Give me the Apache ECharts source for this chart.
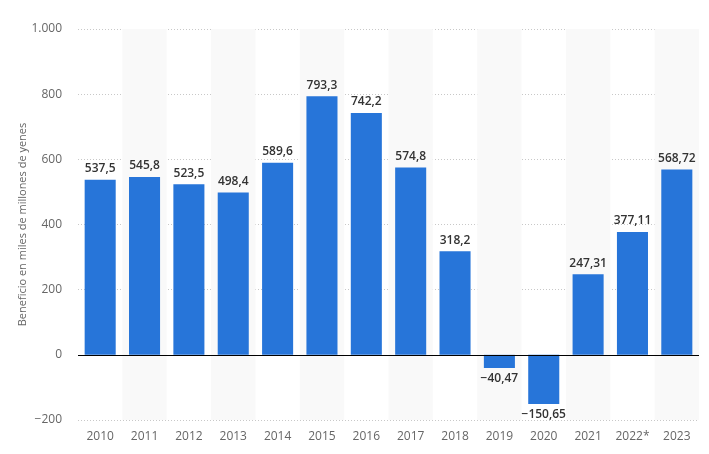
<!DOCTYPE html>
<html>
<head>
<meta charset="utf-8">
<script src="https://cdn.jsdelivr.net/npm/echarts@6/dist/echarts.min.js"></script>
<style>
  html, body { margin: 0; padding: 0; background: #fff; }
  #chart { width: 709px; height: 454px; }
</style>
</head>
<body>
<div id="chart"></div>
<script>
var years = ['2010', '2011', '2012', '2013', '2014', '2015', '2016', '2017', '2018', '2019', '2020', '2021', '2022*', '2023']
var beneficio = [537.5, 545.8, 523.5, 498.4, 589.6, 793.3, 742.2, 574.8, 318.2, -40.47, -150.65, 247.31, 377.11, 568.72]
var yTicks = [-200, 0, 200, 400, 600, 800, 1000]

function fmtNum (v) {
  var s = String(Math.abs(v)).replace('.', ',')
  if (Math.abs(v) >= 1000) s = s.replace(/^(\d)(\d{3})/, '$1.$2')
  return (v < 0 ? '\u2212' : '') + s
}

var chart = echarts.init(document.getElementById('chart'))
chart.setOption({
  animation: false,
  textStyle: { fontFamily: 'Open Sans' },
  grid: { left: 78, right: 10, top: 29, bottom: 34 },
  xAxis: {
    type: 'category',
    data: years,
    axisLine: { show: false },
    axisTick: { show: false },
    axisLabel: { color: '#666', fontSize: 12, margin: 11 },
    splitArea: { show: true, areaStyle: { color: ['rgba(255,255,255,0)', '#f9f9f9'] } }
  },
  yAxis: {
    type: 'value',
    min: yTicks[0],
    max: yTicks[yTicks.length - 1],
    interval: 200,
    name: 'Beneficio en miles de millones de yenes',
    nameLocation: 'middle',
    nameGap: 50,
    nameMoveOverlap: false,
    nameTextStyle: { color: '#666', fontSize: 11 },
    axisLine: { show: false },
    axisTick: { show: false },
    axisLabel: { color: '#666', fontSize: 12, margin: 16, formatter: function (v) { return fmtNum(v) } },
    splitLine: { lineStyle: { color: '#c8c8c8', type: [1, 2] } }
  },
  series: [{
    type: 'bar',
    data: beneficio.map(function (v) {
      return {
        value: v,
        label: { position: v < 0 ? 'bottom' : 'top' }
      }
    }),
    barWidth: '70%',
    itemStyle: { color: '#2775d9' },
    label: {
      show: true,
      color: '#333',
      fontSize: 12,
      fontWeight: 600,
      distance: 5,
      formatter: function (p) { return fmtNum(p.value) }
    },
    markLine: {
      silent: true,
      symbol: 'none',
      label: { show: false },
      lineStyle: { color: '#000', type: 'solid', width: 1.2 },
      data: [{ yAxis: 0 }]
    }
  }]
})
</script>
</body>
</html>
